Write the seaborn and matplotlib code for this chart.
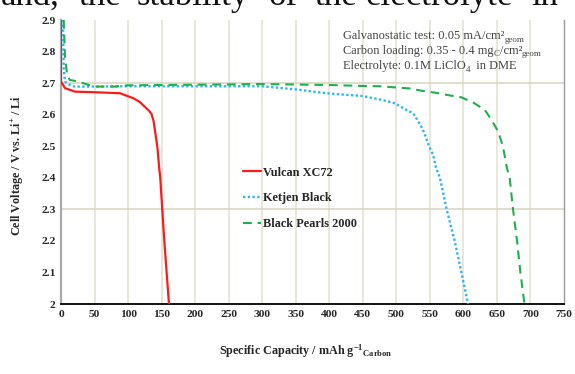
import matplotlib
matplotlib.use("Agg")
import matplotlib.pyplot as plt
import matplotlib.ticker as mticker
import numpy as np
import pandas as pd
import seaborn as sns

# ---- data ----
series_names = ["Vulcan XC72", "Ketjen Black", "Black Pearls 2000"]

vulcan_cap = [0, 0, 6, 21, 51, 88, 108, 117, 125, 131, 135, 138, 140, 143.6, 146.5, 148, 151, 154, 157.5, 161]
vulcan_v = [2.9, 2.705, 2.684, 2.673, 2.671, 2.668, 2.652, 2.641, 2.625, 2.613, 2.602, 2.58, 2.551, 2.499, 2.43, 2.40, 2.30, 2.20, 2.10, 2.00]

ketjen_cap = [3, 4, 6, 10, 20, 40, 100, 200, 300, 350, 400, 450, 478, 498, 515, 525, 530, 536, 542, 549, 555, 559, 565, 575, 587, 597, 607]
ketjen_v = [2.9, 2.75, 2.705, 2.697, 2.689, 2.689, 2.69, 2.69, 2.69, 2.68, 2.667, 2.659, 2.647, 2.636, 2.615, 2.605, 2.588, 2.567, 2.541, 2.499, 2.472, 2.433, 2.40, 2.30, 2.20, 2.10, 2.00]

pearls_cap = [4, 5, 6, 9, 13, 26, 40, 51, 80, 100, 200, 300, 400, 450, 475, 520, 540, 560, 577, 597, 615, 632, 642, 652, 659, 665, 669, 674, 680, 685, 691]
pearls_v = [2.9, 2.84, 2.78, 2.73, 2.71, 2.705, 2.695, 2.689, 2.689, 2.693, 2.695, 2.697, 2.694, 2.691, 2.69, 2.683, 2.675, 2.669, 2.662, 2.655, 2.638, 2.615, 2.583, 2.546, 2.499, 2.43, 2.40, 2.30, 2.20, 2.10, 2.00]

x_ticks = list(range(0, 751, 50))
y_ticks = [2.0, 2.1, 2.2, 2.3, 2.4, 2.5, 2.6, 2.7, 2.8, 2.9]
h_grid = [2.3, 2.7]

# info box lines as (text, is_subscript) pieces
info_lines = [
    [("Galvanostatic test: 0.05 mA/cm\u00b2", False), ("geom", True)],
    [("Carbon loading: 0.35 - 0.4 mg", False), ("C", True), ("/cm\u00b2", False), ("geom", True)],
    [("Electrolyte: 0.1M LiClO", False), ("4", True), ("  in DME", False)],
]
top_words = ["and,", "the", "stability", "of", "the", "electrolyte", "in"]
top_word_x = [1, 79, 137, 269, 315, 366, 531]

# ---- build long table ----
frames = []
for name, c, v in [(series_names[0], vulcan_cap, vulcan_v),
                   (series_names[1], ketjen_cap, ketjen_v),
                   (series_names[2], pearls_cap, pearls_v)]:
    frames.append(pd.DataFrame({"cap": c, "v": v, "series": name}))
df = pd.concat(frames, ignore_index=True)

sns.set_theme(style="white")
plt.rcParams["font.family"] = ["Liberation Serif", "DejaVu Serif"]
plt.rcParams["mathtext.fontset"] = "custom"
plt.rcParams["mathtext.rm"] = "Liberation Serif"
plt.rcParams["mathtext.it"] = "Liberation Serif:italic"
plt.rcParams["mathtext.bf"] = "Liberation Serif:bold"

W, H = 575, 374
fig = plt.figure(figsize=(W / 100, H / 100), dpi=100)
ax = fig.add_axes([61 / W, 1 - 304 / H, (564 - 61) / W, (304 - 20) / H])

palette = {"Vulcan XC72": "#ff1a1a", "Ketjen Black": "#2cb7f2", "Black Pearls 2000": "#1fb04e"}
widths = {"Vulcan XC72": 1.6, "Ketjen Black": 1.7, "Black Pearls 2000": 1.5}
dashes = {"Vulcan XC72": "-", "Ketjen Black": (0, (1, 1)), "Black Pearls 2000": (0, (4.2, 2.8))}

for name in series_names:
    sub = df[df["series"] == name]
    sns.lineplot(data=sub, x="cap", y="v", sort=False, estimator=None, ax=ax,
                 color=palette[name], linewidth=widths[name], linestyle=dashes[name],
                 label=name, legend=False, zorder=3)

ax.set_xlim(0, 750)
ax.set_ylim(2.0, 2.9)
ax.set_xticks(x_ticks)
ax.set_yticks(y_ticks)
ax.yaxis.set_major_formatter(mticker.FormatStrFormatter("%g"))
ax.tick_params(axis="both", length=0, labelsize=8.2, pad=4)
for lab in ax.get_xticklabels() + ax.get_yticklabels():
    lab.set_fontweight("bold")

for xv in x_ticks[1:-1]:
    ax.axvline(xv, color="#e3dfcf", linewidth=1.1, zorder=1)
for yv in h_grid:
    ax.axhline(yv, color="#d8d4c0", linewidth=1.1, zorder=1)

ax.spines["top"].set_visible(False)
ax.spines["left"].set_color("#a9a9a9")
ax.spines["left"].set_linewidth(1.6)
ax.spines["right"].set_color("#9a9a9a")
ax.spines["right"].set_linewidth(1.0)
ax.spines["bottom"].set_color("#111111")
ax.spines["bottom"].set_linewidth(1.4)

ax.set_xlabel("")
ax.set_ylabel("")
fig.text(18 / W, 1 - 165 / H, r"Cell Voltage / V vs. Li$^{\mathbf{+}}$ / Li", rotation=90,
         ha="center", va="center", fontsize=8.7, fontweight="bold")
fig.text(306 / W, 1 - 351 / H, r"Specific Capacity / mAh g$^{\mathbf{-1}}$$_{\mathbf{Carbon}}$",
         ha="center", va="center", fontsize=8.7, fontweight="bold")

# info text, laid out piece by piece
renderer = fig.canvas.get_renderer()
for i, pieces in enumerate(info_lines):
    x_px = 343.0
    base_px = 39 + 15 * i
    for txt, is_sub in pieces:
        size = 6.4 if is_sub else 8.9
        y_px = base_px + (2.5 if is_sub else 0)
        t = fig.text(x_px / W, 1 - y_px / H, txt, ha="left", va="baseline",
                     fontsize=size, color="#444444")
        x_px += t.get_window_extent(renderer).width

handles = ax.get_lines()[:3]
leg = fig.legend(handles=handles, labels=series_names, loc="upper left",
                 bbox_to_anchor=(243 / W, 1 - 166.5 / H), frameon=False,
                 prop={"weight": "bold", "size": 8.8}, handlelength=1.45,
                 handletextpad=0.2, labelspacing=1.13, borderpad=0, borderaxespad=0)

for w, xp in zip(top_words, top_word_x):
    fig.text(xp / W, 1 - 5 / H, w, ha="left", va="baseline", fontsize=25, color="#111111")

fig.savefig("out.png", dpi=100)
